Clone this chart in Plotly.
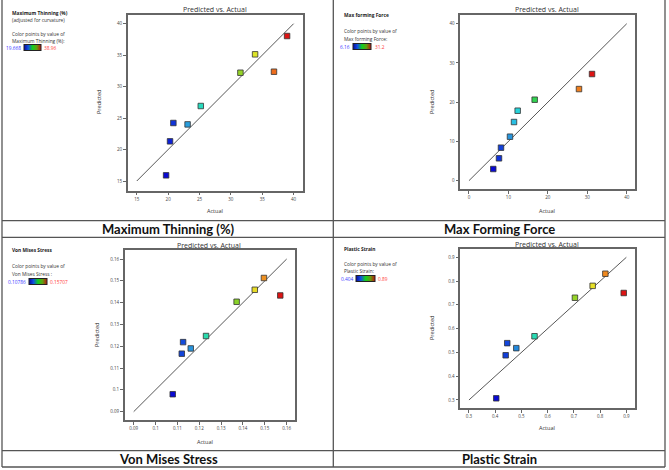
import plotly.graph_objects as go

W, H = 669, 470

# ---------------- data ----------------
thin_actual = [19.67, 20.3, 20.83, 23.1, 25.2, 31.52, 33.86, 36.87, 38.96]
thin_pred = [15.9, 21.3, 24.22, 24.0, 26.92, 32.21, 35.13, 32.37, 38.04]
thin_range = [19.668, 38.96]

force_actual = [6.16, 7.61, 8.12, 10.4, 11.42, 12.35, 16.66, 27.9, 31.2]
force_pred = [2.97, 5.69, 8.41, 11.21, 14.95, 17.83, 20.64, 23.35, 27.18]
force_range = [6.16, 31.2]

vm_actual = [0.10786, 0.1120, 0.1126, 0.1161, 0.1231, 0.1371, 0.1454, 0.1496, 0.15707]
vm_pred = [0.0980, 0.1166, 0.1219, 0.1190, 0.1247, 0.1404, 0.1459, 0.1513, 0.1433]
vm_range = [0.10786, 0.15707]

ps_actual = [0.404, 0.440, 0.446, 0.4805, 0.550, 0.704, 0.7716, 0.820, 0.89]
ps_pred = [0.307, 0.488, 0.539, 0.518, 0.568, 0.730, 0.780, 0.831, 0.750]
ps_range = [0.404, 0.89]

captions = ["Maximum Thinning (%)", "Max Forming Force", "Von Mises Stress", "Plastic Strain"]
legend_names = ["Maximum Thinning (%)", "Max forming Force", "Von Mises Stress", "Plastic Strain"]
legend_sub = ["(adjusted for curvature)", None, None, None]
legend_by = ["Maximum Thinning (%):", "Max forming Force:", "Von Mises Stress :", "Plastic Strain:"]
range_labels = [["19.668", "38.96"], ["6.16", "31.2"], ["0.10786", "0.15707"], ["0.404", "0.89"]]

# ---------------- layout helpers ----------------
def px(x):
    return x / W

def py(y):
    return 1 - y / H

cscale = [[0, '#0a0ad2'], [0.1, '#1450dc'], [0.17, '#2896dc'], [0.23, '#28d2e6'],
          [0.3, '#28dcb4'], [0.42, '#32d250'], [0.6, '#8cd228'], [0.75, '#e6e628'],
          [0.87, '#f07d1e'], [1, '#dc1414']]
bar_scale = [[0, '#0808a0'], [0.25, '#1050e0'], [0.5, '#10d020'], [0.75, '#60a010'], [1, '#c01010']]

panels = [
    dict(a=thin_actual, p=thin_pred, r=thin_range, box=(127.7, 302.7, 14.7, 190.7),
         xr=[13.55, 41.45], yr=[13.46, 41.43], dt=5, diag=[15, 40], ox=0, oy=0,
         title=(215, 9.7), act=(215, 211), pred=(99, 102)),
    dict(a=force_actual, p=force_pred, r=force_range, box=(460.3, 635, 14.7, 189.3),
         xr=[-2.2, 42.1], yr=[-2.2, 42.3], dt=10, diag=[0, 40], ox=335, oy=0,
         title=(547, 9.3), act=(547, 211), pred=(432, 102)),
    dict(a=vm_actual, p=vm_pred, r=vm_range, box=(124.7, 295, 249.7, 420),
         xr=[0.08588, 0.16381], yr=[0.08618, 0.16428], dt=0.01, diag=[0.09, 0.16], ox=0, oy=235,
         title=(209, 245), act=(205, 441.7), pred=(97, 335)),
    dict(a=ps_actual, p=ps_pred, r=ps_range, box=(460.3, 635, 249, 408.3),
         xr=[0.267, 0.933], yr=[0.265, 0.935], dt=0.1, diag=[0.3, 0.9], ox=335, oy=235,
         title=(547, 244.3), act=(547, 427.7), pred=(432, 328)),
]

legend_geo = [
    dict(x=10, name_y=13, sub_y=20, by1_y=34, by2_y=40.5, bar_y=48, bar_x0=23.5, bar_x1=40),
    dict(x=342, name_y=15, sub_y=None, by1_y=31, by2_y=39, bar_y=47, bar_x0=353, bar_x1=371),
    dict(x=10, name_y=250, sub_y=None, by1_y=266, by2_y=273.7, bar_y=281.7, bar_x0=28.7, bar_x1=46.7),
    dict(x=342, name_y=249, sub_y=None, by1_y=264, by2_y=271, bar_y=279, bar_x0=355.7, bar_x1=374.7),
]

fig = go.Figure()
annotations = []
FONT = "Open Sans"
TXT = "#333333"

for i, pn in enumerate(panels):
    k = "" if i == 0 else str(i + 1)
    xa, ya = "x" + k, "y" + k
    x0, x1, y0, y1 = pn["box"]
    lg = legend_geo[i]
    fig.add_trace(go.Scatter(
        x=pn["diag"], y=pn["diag"], mode="lines", xaxis=xa, yaxis=ya,
        line=dict(color="#444444", width=0.9), showlegend=False, hoverinfo="skip"))
    fig.add_trace(go.Scatter(
        x=pn["a"], y=pn["p"], mode="markers", xaxis=xa, yaxis=ya, showlegend=False,
        marker=dict(symbol="square", size=5.5, color=pn["a"], colorscale=cscale,
                    cmin=pn["r"][0], cmax=pn["r"][1],
                    line=dict(color="#333333", width=0.8))))
    # colorbar (gradient legend) driven by the same value range
    fig.add_trace(go.Scatter(
        x=[None], y=[None], mode="markers", xaxis=xa, yaxis=ya, showlegend=False, hoverinfo="skip",
        marker=dict(color=pn["r"], colorscale=bar_scale, cmin=pn["r"][0], cmax=pn["r"][1],
                    showscale=True,
                    colorbar=dict(orientation="h", lenmode="pixels", len=lg["bar_x1"] - lg["bar_x0"],
                                  thicknessmode="pixels", thickness=6,
                                  x=px(lg["bar_x0"]), xanchor="left", y=py(lg["bar_y"]), yanchor="middle",
                                  xpad=0, ypad=0, outlinewidth=1, outlinecolor="#222222",
                                  showticklabels=False, ticks=""))))
    axcommon = dict(showline=True, mirror=True, linecolor="#666666", linewidth=1.5,
                    ticks="outside", ticklen=3, tickwidth=0.8, tickcolor="#666666",
                    showgrid=False, zeroline=False, dtick=pn["dt"],
                    tickfont=dict(size=4.5, color="#444444", family=FONT))
    fig.update_layout(**{
        "xaxis" + k: dict(domain=[px(x0), px(x1)], range=pn["xr"], anchor=ya,
                          tick0=pn["diag"][0], **axcommon),
        "yaxis" + k: dict(domain=[py(y1), py(y0)], range=pn["yr"], anchor=xa,
                          tick0=pn["diag"][0], **axcommon),
    })
    annotations.append(dict(x=px(pn["title"][0]), y=py(pn["title"][1]), text="Predicted vs. Actual",
                            font=dict(size=7, color="#333333", family=FONT)))
    annotations.append(dict(x=px(pn["act"][0]), y=py(pn["act"][1]), text="Actual",
                            font=dict(size=5.5, color="#333333", family=FONT)))
    annotations.append(dict(x=px(pn["pred"][0]), y=py(pn["pred"][1]), text="Predicted", textangle=-90,
                            font=dict(size=5.5, color="#333333", family=FONT)))
    annotations.append(dict(x=px(lg["x"]), y=py(lg["name_y"]), text="<b>" + legend_names[i] + "</b>",
                            xanchor="left", font=dict(size=4.8, color="#222222", family=FONT)))
    if legend_sub[i]:
        annotations.append(dict(x=px(lg["x"]), y=py(lg["sub_y"]), text=legend_sub[i],
                                xanchor="left", font=dict(size=4.8, color=TXT, family=FONT)))
    annotations.append(dict(x=px(lg["x"]), y=py(lg["by1_y"]), text="Color points by value of",
                            xanchor="left", font=dict(size=4.8, color=TXT, family=FONT)))
    annotations.append(dict(x=px(lg["x"]), y=py(lg["by2_y"]), text=legend_by[i],
                            xanchor="left", font=dict(size=4.8, color=TXT, family=FONT)))
    annotations.append(dict(x=px(lg["bar_x0"] - 1), y=py(lg["bar_y"]), text=range_labels[i][0],
                            xanchor="right", font=dict(size=4.8, color="#3c3cff", family=FONT)))
    annotations.append(dict(x=px(lg["bar_x1"] + 1.5), y=py(lg["bar_y"]), text=range_labels[i][1],
                            xanchor="left", font=dict(size=4.8, color="#ff3c3c", family=FONT)))
    cx = 168 if pn["ox"] == 0 else 499
    cy = 229 if pn["oy"] == 0 else 459
    annotations.append(dict(x=px(cx), y=py(cy), text="<b>" + captions[i] + "</b>",
                            font=dict(size=13, color="#111111", family="Lato")))

for a in annotations:
    a.setdefault("xref", "paper")
    a.setdefault("yref", "paper")
    a.setdefault("showarrow", False)
    a.setdefault("xanchor", "center")
    a.setdefault("yanchor", "middle")

shapes = []
LC = "#555555"
for xv in [2, 333.3, 665]:
    shapes.append(dict(type="line", xref="paper", yref="paper", x0=px(xv), x1=px(xv),
                       y0=py(0), y1=py(467), line=dict(color=LC, width=1.3)))
for yv in [220.7, 237.3, 450.7, 467]:
    shapes.append(dict(type="line", xref="paper", yref="paper", x0=px(2), x1=px(665),
                       y0=py(yv), y1=py(yv), line=dict(color=LC, width=1.3)))

fig.update_layout(width=W, height=H, margin=dict(l=0, r=0, t=0, b=0),
                  paper_bgcolor="white", plot_bgcolor="white",
                  annotations=annotations, shapes=shapes, showlegend=False)

fig.write_html("out.html")
